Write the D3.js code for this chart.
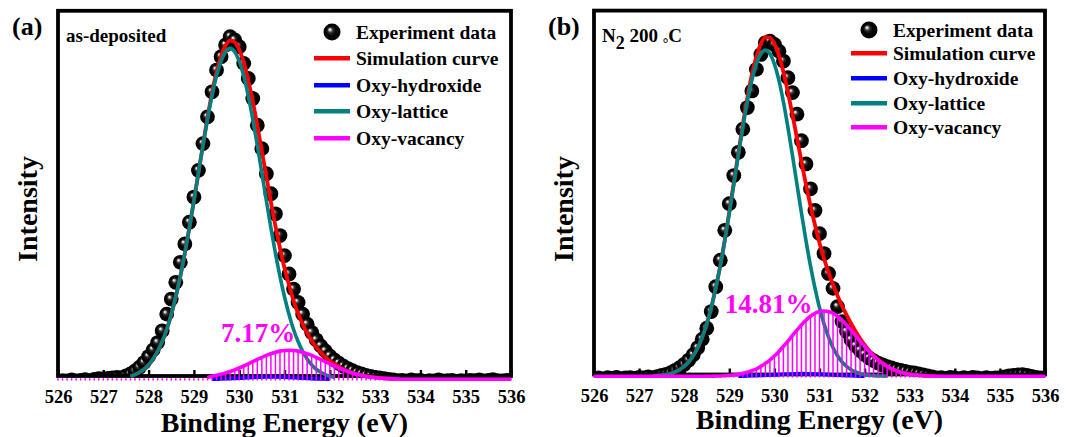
<!DOCTYPE html>
<html>
<head>
<meta charset="utf-8">
<script src="https://cdn.jsdelivr.net/npm/d3@7"></script>
<style>
  body { margin: 0; background: #fff; }
  svg text { font-family: "Liberation Serif", "Times New Roman", "DejaVu Serif", serif; font-weight: bold; }
</style>
</head>
<body>
<svg id="chart" width="1067" height="437"></svg>
<script>
"use strict";

// ---- data (binding energy in eV, intensity in arbitrary units, 100 ~ peak) ----
const xTicks = [526, 527, 528, 529, 530, 531, 532, 533, 534, 535, 536];
const step = 0.1;              // spectrometer step, eV
const legendLabels = ["Experiment data", "Simulation curve", "Oxy-hydroxide", "Oxy-lattice", "Oxy-vacancy"];

// (a) as-deposited
const expStartA = 526.0;
const expA = [
  -0.6, -0.4, -0.5, -0.2, -0.5, -0.3, -0.1, -0.4, 0.0, 0.2,
  0.1, 0.3, 0.4, 0.6, 0.5, 1.0, 1.6, 2.5, 3.6, 5.0,
  6.8, 8.8, 11.0, 14.5, 19.5, 24.0, 29.0, 35.0, 40.5, 47.0,
  54.5, 62.5, 70.5, 78.5, 86.0, 92.5, 96.5, 100.0, 102.5, 101.5,
  99.5, 94.5, 90.0, 84.0, 76.0, 69.0, 61.5, 55.5, 49.5, 43.0,
  37.0, 31.5, 27.0, 23.0, 19.5, 16.5, 14.0, 11.8, 10.0, 8.5,
  7.0, 5.8, 4.8, 3.9, 3.2, 2.6, 2.0, 1.6, 1.2, 0.9,
  0.6, 0.4, 0.2, 0.0, -0.2, -0.4, -0.3, -0.5, -0.2, -0.4,
  -0.3, -0.6, -0.4, -0.5, -0.2, -0.5, -0.4, -0.3, -0.6, -0.4,
  -0.5, -0.3, -0.4, -0.2, -0.5, -0.3, -0.1, -0.4, -0.5, -0.3,
  -0.2
];
const simStartA = 527.6;
const simA = [
  0.9, 1.4, 2.1, 3.0, 4.3, 6.1, 8.4, 11.3, 14.9, 19.4,
  24.7, 30.8, 37.7, 45.3, 53.4, 61.7, 70.0, 78.3, 85.7, 92.0,
  96.7, 99.9, 101.3, 100.8, 98.6, 94.8, 89.4, 83.1, 75.9, 68.3,
  60.6, 53.0, 45.8, 39.2, 33.3, 28.1, 23.5, 19.7, 16.5, 13.8,
  11.5, 9.6, 8.0, 6.7, 5.5, 4.6, 3.8, 3.0, 2.4, 1.9,
  1.5, 1.2, 0.9, 0.7, 0.5, 0.4, 0.3, 0.2, 0.1, 0.1
];
const latStartA = 527.6;
const latA = [
  0.9, 1.4, 2.1, 3.0, 4.3, 6.1, 8.4, 11.3, 14.9, 19.4,
  24.7, 30.8, 37.7, 45.3, 53.4, 61.7, 70.0, 77.8, 84.8, 90.8,
  95.2, 98.0, 99.0, 98.0, 95.2, 90.8, 84.8, 77.8, 70.0, 61.7,
  53.4, 45.3, 37.7, 30.8, 24.7, 19.4, 14.9, 11.3, 8.4, 6.1,
  4.3, 3.0, 2.1, 1.4, 0.9, 0.6
];
const hydStartA = 529.4, hydStepA = 0.2;
const hydA = [0, 0.1, 0.2, 0.3, 0.5, 0.6, 0.7, 0.7, 0.6, 0.5, 0.3, 0.2, 0.1, 0];
const vacStartA = 526.0, vacLineFromA = 529.3;
const vacA = [
  0, 0, 0, 0, 0, 0, 0, 0, 0, 0,
  0, 0, 0, 0, 0, 0, 0, 0, 0, 0,
  0, 0, 0, 0, 0, 0, 0, 0, 0, 0,
  0, 0, 0, 0.5, 0.9, 1.18, 1.5, 1.88, 2.32, 2.82,
  3.38, 3.98, 4.62, 5.28, 5.93, 6.57, 7.16, 7.68, 8.11, 8.43,
  8.63, 8.7, 8.63, 8.43, 8.11, 7.68, 7.16, 6.57, 5.93, 5.28,
  4.62, 3.98, 3.38, 2.82, 2.32, 1.88, 1.5, 1.18, 0.91, 0.69,
  0.52, 0.38, 0.28, 0.2, 0.14, 0.1, 0, 0, 0, 0,
  0, 0, 0, 0, 0, 0, 0, 0, 0, 0,
  0, 0, 0, 0, 0, 0, 0, 0, 0, 0,
  0
];

// (b) N2 200 C
const expStartB = 526.0;
const expB = [
  -0.7, -0.5, -0.8, -0.4, -0.6, -0.3, -0.7, -0.5, -0.4, -0.6,
  -0.3, -0.5, -0.2, -0.4, -0.1, 0.3, 0.6, 1.1, 1.8, 2.6,
  3.6, 4.9, 6.5, 8.6, 11.2, 14.5, 19.5, 27.0, 35.0, 44.0,
  52.0, 60.5, 67.5, 74.5, 81.0, 86.0, 92.5, 97.0, 100.5, 101.0,
  100.0, 98.0, 95.0, 90.0, 85.5, 79.0, 71.0, 64.0, 56.5, 50.0,
  43.0, 37.0, 31.0, 26.5, 21.0, 16.5, 13.5, 11.0, 9.2, 7.8,
  6.6, 5.5, 4.7, 4.0, 3.4, 2.9, 2.5, 2.1, 1.8, 1.5,
  1.2, 1.0, 0.7, 0.4, 0.1, -0.2, -0.5, -0.4, -0.6, -0.3,
  -0.5, -0.7, -0.4, -0.6, -0.3, -0.5, -0.7, -0.4, -0.6, -0.5,
  -0.4, -0.2, 0.1, 0.3, 0.4, 0.5, 0.3, 0.0, -0.3, -0.5,
  -0.4
];
const simStartB = 527.3;
const simB = [
  0.1, 0.2, 0.3, 0.5, 0.8, 1.3, 2.0, 3.0, 4.3, 6.2,
  8.6, 11.8, 15.8, 20.7, 26.7, 33.4, 41.1, 49.5, 58.3, 67.2,
  75.9, 83.9, 90.9, 96.3, 100.2, 102.2, 102.1, 100.2, 96.7, 91.7,
  85.6, 78.9, 71.8, 64.7, 57.8, 51.4, 45.6, 40.2, 35.5, 31.3,
  27.6, 24.3, 21.2, 18.5, 15.9, 13.6, 11.4, 9.5, 7.8, 6.3,
  5.0, 4.0, 3.0, 2.2, 1.7, 1.2, 0.9, 0.6, 0.4, 0.3,
  0.2, 0.1, 0.1
];
const latStartB = 527.3;
const latB = [
  0.1, 0.2, 0.3, 0.5, 0.8, 1.3, 2.0, 3.0, 4.3, 6.2,
  8.6, 11.8, 15.8, 20.7, 26.6, 33.3, 40.9, 49.2, 57.9, 66.6,
  75.0, 82.7, 89.2, 94.1, 97.2, 98.3, 97.2, 94.1, 89.2, 82.7,
  75.0, 66.6, 57.9, 49.2, 40.9, 33.3, 26.6, 20.7, 15.8, 11.8,
  8.6, 6.2, 4.3, 3.0, 2.0, 1.3, 0.8, 0.5, 0.3, 0.2,
  0.1, 0.1, 0.0
];
const hydStartB = 529.2, hydStepB = 0.2;
const hydB = [0, 0.1, 0.2, 0.3, 0.4, 0.6, 0.7, 0.8, 0.7, 0.6, 0.5, 0.3, 0.2, 0.1, 0];
const vacStartB = 526.0, vacLineFromB = 526.0;
const vacB = [
  0, 0, 0, 0, 0, 0, 0, 0, 0, 0,
  0, 0, 0, 0, 0, 0, 0, 0, 0, 0,
  0, 0, 0, 0, 0, 0, 0, 0.1, 0.1, 0.2,
  0.3, 0.4, 0.6, 0.9, 1.2, 1.7, 2.2, 3.0, 3.9, 4.9,
  6.1, 7.5, 9.0, 10.6, 12.3, 13.9, 15.5, 16.9, 18.1, 19.0,
  19.5, 19.7, 19.5, 19.0, 18.1, 16.9, 15.5, 13.9, 12.3, 10.6,
  9.0, 7.5, 6.1, 4.9, 3.9, 3.0, 2.2, 1.7, 1.2, 0.9,
  0.6, 0.4, 0.3, 0.2, 0.1, 0.1, 0, 0, 0, 0,
  0, 0, 0, 0, 0, 0, 0, 0, 0, 0,
  0, 0, 0, 0, 0, 0, 0, 0, 0, 0,
  0
];

const colors = { sim: "#ff0000", hyd: "#0000ff", lat: "#008080", vac: "#ff00ff" };

// ---- drawing ----
const svg = d3.select("#chart");
const defs = svg.append("defs");

const ball = defs.append("radialGradient").attr("id", "ball")
  .attr("cx", "50%").attr("cy", "50%").attr("r", "50%")
  .attr("fx", "36%").attr("fy", "34%");
[[0, "#ffffff"], [0.1, "#d6d6d6"], [0.3, "#333"], [0.55, "#050505"], [1, "#000"]]
  .forEach(s => ball.append("stop").attr("offset", s[0]).attr("stop-color", s[1]));

function series(values, start, st) {
  return values.map((v, i) => [start + i * st, v]);
}

function drawPanel(p) {
  const g = svg.append("g");
  const x = d3.scaleLinear().domain([526, 536]).range([p.left, p.right]);
  const y = d3.scaleLinear().domain([0, 100]).range([p.base, p.y100]);
  const line = d3.line().x(d => x(d[0])).y(d => y(d[1])).curve(d3.curveMonotoneX);

  const clipId = "clip-" + p.key;
  defs.append("clipPath").attr("id", clipId).append("rect")
    .attr("x", p.left).attr("y", p.top)
    .attr("width", p.right - p.left).attr("height", p.bottom - p.top + 1);

  // experiment points, shaded balls
  g.append("g").attr("clip-path", `url(#${clipId})`)
    .selectAll("circle").data(series(p.exp, p.expStart, step)).join("circle")
    .attr("cx", d => x(d[0])).attr("cy", d => y(d[1])).attr("r", 7.4)
    .attr("fill", "url(#ball)");

  // frame
  g.append("rect")
    .attr("x", p.left).attr("y", p.top)
    .attr("width", p.right - p.left).attr("height", p.bottom - p.top)
    .attr("fill", "none").attr("stroke", "#000").attr("stroke-width", 3.8);

  // x axis, inward ticks
  const axis = d3.axisBottom(x).tickValues(xTicks).tickSize(-6).tickPadding(14)
    .tickFormat(d3.format("d"));
  const ax = g.append("g").attr("transform", `translate(0,${p.bottom})`).call(axis);
  ax.select(".domain").remove();
  ax.attr("font-size", 18.5);
  ax.selectAll(".tick line").attr("stroke-width", 2.4);
  ax.selectAll(".tick text").attr("fill", "#000");

  // fitted components
  g.append("path").datum(series(p.hyd, p.hydStart, p.hydStep))
    .attr("d", line).attr("fill", "none").attr("stroke", colors.hyd).attr("stroke-width", 3.6);
  g.append("path").datum(series(p.sim, p.simStart, step))
    .attr("d", line).attr("fill", "none").attr("stroke", colors.sim).attr("stroke-width", 3.8);
  g.append("path").datum(series(p.lat, p.latStart, step))
    .attr("d", line).attr("fill", "none").attr("stroke", colors.lat).attr("stroke-width", 3.6);

  // vacancy: hatched area + curve
  const vac = series(p.vac, p.vacStart, step);
  g.append("g").selectAll("line").data(vac).join("line")
    .attr("x1", d => x(d[0])).attr("x2", d => x(d[0]))
    .attr("y1", p.base + 1.2).attr("y2", d => Math.min(y(d[1]), p.base - 1))
    .attr("stroke", colors.vac).attr("stroke-width", 1.5);
  g.append("path").datum(vac.filter(d => d[0] >= p.vacLineFrom - 1e-6))
    .attr("d", line).attr("fill", "none").attr("stroke", colors.vac).attr("stroke-width", 3.6);

  // labels
  g.append("text").attr("x", p.left - 46).attr("y", 35).attr("font-size", 26).text(p.tag);
  const cond = g.append("text").attr("x", p.left + 8).attr("y", 42).attr("font-size", 19);
  p.condition(cond);

  g.append("text").attr("x", x(p.pctAt[0])).attr("y", y(p.pctAt[1]))
    .attr("font-size", 27).attr("fill", colors.vac).text(p.pct);

  g.append("text").attr("x", (p.left + p.right) / 2).attr("y", p.titleY)
    .attr("text-anchor", "middle").attr("font-size", 28).text("Binding Energy (eV)");
  g.append("text").attr("transform", `translate(${p.left - 21},209) rotate(-90)`)
    .attr("text-anchor", "middle").attr("font-size", 28).text("Intensity");

  // legend
  const lg = g.append("g");
  lg.append("circle").attr("cx", p.legX + 18).attr("cy", p.legY[0]).attr("r", 8.5)
    .attr("fill", "url(#ball)");
  const legColors = [null, colors.sim, colors.hyd, colors.lat, colors.vac];
  legendLabels.forEach((lab, i) => {
    if (legColors[i]) {
      lg.append("line").attr("x1", p.legX).attr("x2", p.legX + 36)
        .attr("y1", p.legY[i]).attr("y2", p.legY[i])
        .attr("stroke", legColors[i]).attr("stroke-width", 4.6);
    }
    lg.append("text").attr("x", p.legX + 42).attr("y", p.legY[i] + 6.5)
      .attr("font-size", 19.5).text(lab);
  });
}

drawPanel({
  key: "a", left: 58, right: 511, top: 10.8, bottom: 376, base: 379.3, y100: 45,
  exp: expA, expStart: expStartA, sim: simA, simStart: simStartA,
  lat: latA, latStart: latStartA, hyd: hydA, hydStart: hydStartA, hydStep: hydStepA,
  vac: vacA, vacStart: vacStartA, vacLineFrom: vacLineFromA,
  tag: "(a)", pct: "7.17%", pctAt: [529.6, 11.3], titleY: 431.5,
  legX: 314, legY: [32, 58.3, 85.3, 111.3, 138.3],
  condition: t => t.text("as-deposited")
});

drawPanel({
  key: "b", left: 594, right: 1045, top: 10.6, bottom: 374.5, base: 376.3, y100: 44.5,
  exp: expB, expStart: expStartB, sim: simB, simStart: simStartB,
  lat: latB, latStart: latStartB, hyd: hydB, hydStart: hydStartB, hydStep: hydStepB,
  vac: vacB, vacStart: vacStartB, vacLineFrom: vacLineFromB,
  tag: "(b)", pct: "14.81%", pctAt: [528.9, 19.0], titleY: 428.5,
  legX: 851, legY: [30, 53.3, 78.3, 103.3, 127.3],
  condition: t => {
    t.append("tspan").text("N");
    t.append("tspan").attr("dy", 7).attr("font-size", 18).text("2");
    t.append("tspan").attr("dy", -7).text(" 200 ");
    t.append("tspan").attr("dy", 6).attr("font-size", 14).text("°");
    t.append("tspan").attr("dy", -6).text("C");
  }
});
</script>
</body>
</html>
